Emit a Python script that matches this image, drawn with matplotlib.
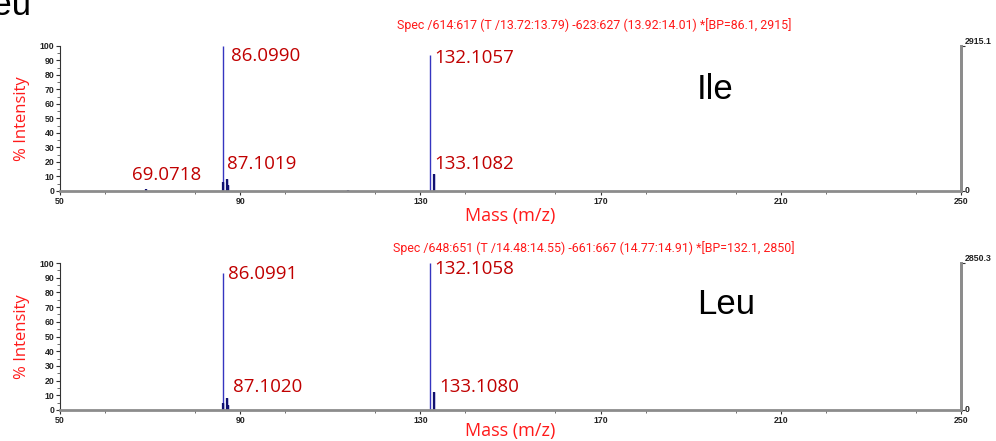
import matplotlib
matplotlib.use("Agg")
import matplotlib.pyplot as plt
from matplotlib.ticker import MultipleLocator
from matplotlib.transforms import blended_transform_factory

# ---- data ----
ile_mz = [69.0718, 86.0990, 86.20, 87.1019, 87.40, 114.0, 132.1057, 133.1082]
ile_int = [1.5, 100.0, 6.0, 8.5, 4.0, 0.6, 94.0, 11.5]
ile_labels = ["69.0718", "86.0990", "87.1019", "132.1057", "133.1082"]
ile_label_mz = [69.0718, 86.0990, 87.1019, 132.1057, 133.1082]
ile_label_y = [11, 93, 18.5, 92, 18.5]

leu_mz = [86.0991, 86.20, 87.1020, 87.40, 132.1058, 133.1080]
leu_int = [93.0, 5.0, 8.0, 3.6, 100.0, 12.5]
leu_labels = ["86.0991", "87.1020", "132.1058", "133.1080"]
leu_label_mz = [86.0991, 87.1020, 132.1058, 133.1080]
leu_label_y = [92.5, 15.7, 96, 15.7]

ile_title = "Spec /614:617 (T /13.72:13.79) -623:627 (13.92:14.01) *[BP=86.1, 2915]"
leu_title = "Spec /648:651 (T /14.48:14.55) -661:667 (14.77:14.91) *[BP=132.1, 2850]"
ile_max = 2915.1
leu_max = 2850.3

x_major = [50, 90, 130, 170, 210, 250]
y_major = list(range(0, 101, 10))

fig = plt.figure(figsize=(9.96, 4.41), dpi=100)

TICK_FAM = ['Liberation Sans Narrow', 'Liberation Sans', 'DejaVu Sans']
TICK_SIZE = 6.3
RED = '#ff1a1a'
DARKRED = '#c00000'
GRAY = '#8c8c8c'
TITLE_FAM = ['Roboto', 'DejaVu Sans']


def style_labels(labels):
    for lab in labels:
        lab.set_fontfamily(TICK_FAM)
        lab.set_fontweight('bold')
        lab.set_fontsize(TICK_SIZE)
        lab.set_color('#222222')


def panel(rect, mz, inten, labels, label_mz, label_y, title, name, name_y,
          maxval, label_dx, title_pad, xlabelpad):
    ax = fig.add_axes(rect)
    ax.vlines(mz, 0, inten, colors='#3535c0', linewidth=1.0)
    small = [(m, i) for m, i in zip(mz, inten) if i < 20]
    ax.vlines([m for m, _ in small], 0, [i for _, i in small], colors='#101070', linewidth=1.6)
    ax.set_xlim(50, 250)
    ax.set_ylim(0, 100)
    ax.set_xticks(x_major)
    ax.xaxis.set_minor_locator(MultipleLocator(20))
    ax.set_yticks(y_major)
    ax.yaxis.set_minor_locator(MultipleLocator(5))
    ax.tick_params(axis='both', which='major', length=3, width=0.8, color='#333333', pad=1)
    ax.tick_params(axis='both', which='minor', length=2, width=0.6, color='#555555')
    style_labels(ax.get_xticklabels() + ax.get_yticklabels())
    ax.spines['top'].set_visible(False)
    ax.spines['left'].set_color('#333333')
    ax.spines['left'].set_linewidth(0.8)
    ax.spines['bottom'].set_color(GRAY)
    ax.spines['bottom'].set_linewidth(2)
    ax.spines['right'].set_color(GRAY)
    ax.spines['right'].set_linewidth(2)

    ax2 = ax.twinx()
    ax2.set_ylim(0, maxval)
    ax2.set_yticks([0, maxval])
    ax2.tick_params(axis='y', length=3, width=0.8, color='#333333', labelright=False)
    for s in ['top', 'left', 'bottom']:
        ax2.spines[s].set_visible(False)
    ax2.spines['right'].set_color(GRAY)
    ax2.spines['right'].set_linewidth(2)
    tr = blended_transform_factory(ax2.transAxes, ax2.transData)
    ax2.text(1.004, maxval, f'{maxval:.1f}', transform=tr, ha='left', va='bottom',
             family=TICK_FAM, weight='bold', fontsize=TICK_SIZE, color='#222222')
    ax2.text(1.004, 0, '0', transform=tr, ha='left', va='center',
             family=TICK_FAM, weight='bold', fontsize=TICK_SIZE, color='#222222')

    for t, m, y, dx in zip(labels, label_mz, label_y, label_dx):
        ax.text(m + dx, y, t, color=DARKRED, fontsize=13.5, family='Open Sans',
                ha='left', va='center')

    ax.set_title(title, color=RED, fontsize=8.9, family=TITLE_FAM, pad=title_pad, x=0.593)
    ax.set_xlabel('Mass (m/z)', color=RED, fontsize=13, family='Open Sans',
                  labelpad=xlabelpad, x=0.5)
    ax.set_ylabel('% Intensity', color=RED, fontsize=12, family='Open Sans', labelpad=7)
    ax.text(0.707, name_y, name, transform=ax.transAxes, fontsize=25, family='Liberation Sans',
            ha='left', va='center', color='black')
    return ax


panel([0.0602, 0.5669, 0.9046, 0.3288], ile_mz, ile_int, ile_labels, ile_label_mz,
      ile_label_y, ile_title, 'Ile', 0.697, ile_max, [-3.0, 1.8, 0.0, 0.9, 0.0], 12, 1)
panel([0.0602, 0.0703, 0.9046, 0.3333], leu_mz, leu_int, leu_labels, leu_label_mz,
      leu_label_y, leu_title, 'Leu', 0.716, leu_max, [1.3, 1.2, 1.0, 1.2], 8, -1.5)

fig.text(0.031, 1 - 15 / 441, 'Leu', fontsize=25, family='Liberation Sans',
         ha='right', va='baseline')

fig.savefig('out.png', dpi=100)
